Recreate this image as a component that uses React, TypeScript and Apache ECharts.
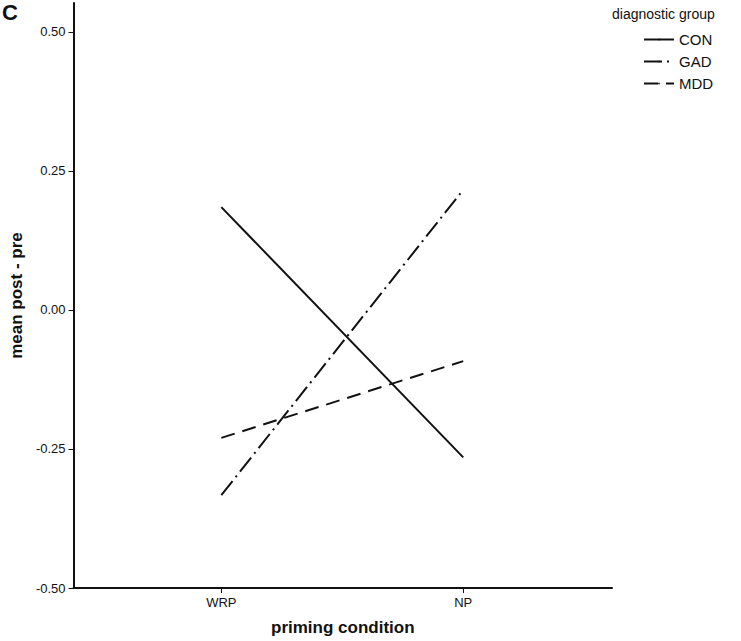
import React, { useEffect, useRef } from "react";
import * as echarts from "echarts";

const categories = ["WRP", "NP"];
const groups = ["CON", "GAD", "MDD"];
const conValues = [0.185, -0.265];
const gadValues = [-0.333, 0.216];
const mddValues = [-0.23, -0.092];
const yTicks = [-0.5, -0.25, 0, 0.25, 0.5];

const FONT = "Liberation Sans, Arial, sans-serif";

export default function App() {
  const ref = useRef<HTMLDivElement>(null);
  useEffect(() => {
    if (!ref.current) return;
    const chart = echarts.init(ref.current, null, { renderer: "svg" });
    const mk = (name: string, vals: number[], type: any) => ({
      name,
      type: "line",
      symbol: "none",
      data: vals.map((v, i) => [i, v]),
      lineStyle: { color: "#111", width: 2, type },
      itemStyle: { color: "#111" },
    });
    chart.setOption({
      animation: false,
      backgroundColor: "#fff",
      textStyle: { fontFamily: FONT },
      grid: { left: 69, right: 129, top: 3, bottom: 53, containLabel: false },
      xAxis: {
        type: "value",
        min: -0.611,
        max: 1.615,
        splitLine: { show: false },
        axisLine: { onZero: false, lineStyle: { color: "#111", width: 2 } },
        axisTick: { customValues: [0, 1], length: 5, lineStyle: { color: "#111", width: 1 } },
        axisLabel: {
          customValues: [0, 1],
          formatter: (v: number) => categories[Math.round(v)] ?? "",
          color: "#111",
          fontSize: 13,
          margin: 8,
          fontFamily: FONT,
        },
        name: "priming condition",
        nameLocation: "middle",
        nameGap: 31,
        nameTextStyle: { fontSize: 17, fontWeight: "bold", color: "#111", fontFamily: FONT },
      },
      yAxis: {
        type: "value",
        min: -0.5,
        max: 0.552,
        splitLine: { show: false },
        axisLine: { onZero: false, lineStyle: { color: "#111", width: 2 } },
        axisTick: { customValues: yTicks, length: 5, lineStyle: { color: "#111", width: 1 } },
        axisLabel: {
          customValues: yTicks,
          formatter: (v: number) => v.toFixed(2),
          color: "#111",
          fontSize: 13,
          margin: 8,
          fontFamily: FONT,
        },
        name: "mean post - pre",
        nameLocation: "middle",
        nameGap: 48,
        nameTextStyle: { fontSize: 17, fontWeight: "bold", color: "#111", fontFamily: FONT },
      },
      legend: {
        orient: "vertical",
        left: 638,
        top: 27,
        itemWidth: 30,
        itemHeight: 2,
        itemGap: 7,
        data: groups,
        textStyle: { fontSize: 15, color: "#111", fontFamily: FONT },
      },
      graphic: [
        {
          type: "text",
          left: 2,
          top: 1,
          style: { text: "C", font: `bold 22px ${FONT}`, fill: "#111" },
        },
        {
          type: "text",
          left: 612,
          top: 7,
          style: { text: "diagnostic group", font: `14px ${FONT}`, fill: "#111" },
        },
      ],
      series: [
        mk(groups[0], conValues, "solid"),
        mk(groups[1], gadValues, [18, 5, 2, 5]),
        mk(groups[2], mddValues, [14, 8]),
      ],
    });
    return () => chart.dispose();
  }, []);
  return <div ref={ref} style={{ width: 741, height: 641, position: "absolute", left: 0, top: 0 }} />;
}
